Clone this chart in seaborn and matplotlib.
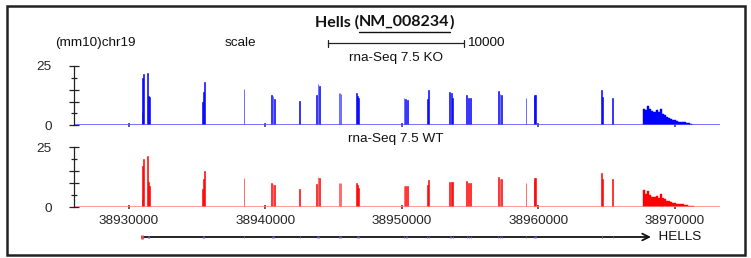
import matplotlib
matplotlib.use("Agg")
import matplotlib.pyplot as plt
import matplotlib.transforms as mtransforms
from matplotlib.patches import Rectangle
from matplotlib.ticker import FixedLocator
import seaborn as sns

# RNA-seq coverage on chr19 (mm10)
EXON_POS = [
    38930952, 38931004, 38931048, 38931370, 38931429, 38931487,
    38935399, 38935443, 38935509, 38938425,
    38940454, 38940549, 38940645, 38942506,
    38943751, 38943846, 38943942, 38945385, 38945458, 38945532,
    38946682, 38946755, 38946828, 38950147, 38950271, 38950388,
    38951853, 38951956, 38953516, 38953611, 38953714,
    38954740, 38954908, 38955033, 38957055, 38957180, 38957304,
    38959085, 38959671, 38959744, 38959817,
    38964630, 38964674, 38965436,
]
KO_EXON = [
    5.6, 20.0, 21.8, 22.2, 12.2, 12.0,
    9.8, 14.0, 18.3, 15.4,
    12.9, 12.5, 11.2, 10.1,
    12.6, 17.3, 16.5, 13.8, 13.5, 13.2,
    13.8, 12.5, 11.5, 11.7, 11.2, 10.5,
    11.2, 15.0, 14.0, 13.5, 11.7,
    12.9, 11.7, 11.7, 14.5, 13.0, 12.6,
    11.7, 12.3, 12.6, 12.6,
    14.8, 11.9, 11.7,
]
WT_EXON = [
    3.5, 16.9, 20.1, 21.1, 10.5, 8.7,
    7.3, 11.5, 14.8, 11.9,
    9.8, 9.6, 9.1, 7.7,
    9.5, 12.4, 12.0, 10.1, 10.0, 9.8,
    9.8, 9.0, 8.1, 8.7, 8.7, 8.6,
    9.1, 11.2, 10.5, 10.5, 10.3,
    10.8, 10.1, 10.1, 12.4, 11.5, 11.5,
    10.1, 10.9, 11.9, 11.9,
    14.0, 11.5, 11.5,
]

# 3' UTR coverage bins
UTR_POS = [
    38967750, 38967900, 38968050, 38968200, 38968350, 38968500, 38968650,
    38968800, 38968950, 38969100, 38969250, 38969400, 38969550, 38969700,
    38969850, 38970000, 38970150, 38970300, 38970450, 38970600, 38970750,
    38970900, 38971050, 38971200, 38971350,
]
KO_UTR = [
    7.0, 6.5, 8.1, 7.0, 6.2, 5.8, 6.3, 5.5, 6.7, 4.8, 4.2, 3.4, 3.1,
    2.6, 2.2, 2.3, 2.0, 1.6, 1.5, 1.3, 1.2, 1.1, 0.8, 0.5, 0.2,
]
WT_UTR = [
    7.0, 5.3, 6.7, 5.2, 4.3, 4.2, 4.6, 3.6, 5.3, 3.8, 3.2, 2.7, 2.3,
    2.0, 1.8, 1.5, 1.3, 1.1, 1.2, 1.1, 0.9, 0.8, 0.6, 0.5, 0.3,
]

X_TICKS = [38930000, 38940000, 38950000, 38960000, 38970000]
X_RANGE = (38925970, 38973300)
Y_MAJOR = [0, 10, 15, 25]
Y_MINOR = [5, 20]
GENE_START, GENE_END = 38930950, 38968240
SCALE_START, SCALE_BP = 38944580, 10000

TRACKS = [
    ("rna-Seq 7.5 KO", KO_EXON, KO_UTR, "#0000ff", "#5050ff"),
    ("rna-Seq 7.5 WT", WT_EXON, WT_UTR, "#ff0000", "#ff8080"),
]

W, H = 751, 258
sns.set_theme(style="white")
plt.rcParams["font.family"] = ["Liberation Sans", "DejaVu Sans"]

fig = plt.figure(figsize=(W / 100, H / 100), dpi=100)


def px_axes(left, top, right, bottom):
    return fig.add_axes([left / W, 1 - bottom / H, (right - left) / W, (bottom - top) / H])


def fx(px):
    return px / W


def fy(py):
    return 1 - py / H


FS = 9.7
track_boxes = [(66, 125.3), (147, 207)]
axes = []
for (label, exon_vals, utr_vals, color, base_color), (top, bottom) in zip(TRACKS, track_boxes):
    ax = px_axes(74, top, 720, bottom)
    ax.set_xlim(*X_RANGE)
    ax.set_ylim(0, 25)
    ax.bar(EXON_POS, exon_vals, width=70, color=color, edgecolor=color, linewidth=0.4, align="center")
    ax.bar(UTR_POS, utr_vals, width=150, color=color, edgecolor=color, linewidth=0.3, align="center")
    ax.axhline(0, color=base_color, lw=1.1, zorder=1)
    for side in ["top", "right", "bottom"]:
        ax.spines[side].set_visible(False)
    ax.spines["left"].set_color("#222222")
    ax.spines["left"].set_linewidth(0.9)
    ax.yaxis.set_major_locator(FixedLocator(Y_MAJOR))
    ax.yaxis.set_minor_locator(FixedLocator(Y_MINOR))
    ax.set_yticklabels(["0", "", "", "25"])
    ax.tick_params(axis="y", which="major", direction="inout", length=7, width=0.9,
                   color="#222222", pad=12.3, labelsize=FS, left=True)
    ax.tick_params(axis="y", which="minor", direction="inout", length=4, width=0.9,
                   color="#222222", left=True)
    ax.set_xticks(X_TICKS)
    ax.set_xticklabels([str(t) for t in X_TICKS])
    ax.tick_params(axis="x", direction="inout", length=3, width=1.2, color="#444444",
                   pad=4.3, labelsize=FS, bottom=True)
    ax.set_facecolor("none")
    ax.grid(False)
    fig.text(fx(396), fy(top - 8), label, ha="center", va="center", fontsize=FS, color="#111111")
    axes.append(ax)

axes[0].tick_params(axis="x", labelbottom=False)

# gene model
gax = px_axes(74, 231, 720, 243)
gax.set_xlim(*X_RANGE)
gax.set_ylim(-1, 1)
gax.axis("off")
gax.annotate("", xy=(GENE_END, 0), xytext=(GENE_START, 0),
             arrowprops=dict(arrowstyle="->", color="#111111", lw=1.3,
                             shrinkA=0, shrinkB=0, mutation_scale=12))
gax.vlines(EXON_POS, -0.22, 0.22, color="#6060d0", lw=0.8, alpha=0.8, zorder=3)
gax.vlines([GENE_START], -0.3, 0.3, color="#e05050", lw=2.0, zorder=3)
gax.text(GENE_END, 0, "  HELLS", ha="left", va="center", fontsize=FS, color="#111111")

# header line: chromosome and scale bar
fig.text(fx(55), fy(43), "(mm10)chr19", ha="left", va="center", fontsize=FS, color="#111111")
fig.text(fx(225), fy(43), "scale", ha="left", va="center", fontsize=FS, color="#111111")
blend = mtransforms.blended_transform_factory(axes[0].transData, fig.transFigure)
fig.lines.append(plt.Line2D([SCALE_START, SCALE_START + SCALE_BP], [fy(43), fy(43)],
                            transform=blend, color="#222222", lw=0.9))
for xb in [SCALE_START, SCALE_START + SCALE_BP]:
    fig.lines.append(plt.Line2D([xb, xb], [fy(39.5), fy(46.5)], transform=blend,
                                color="#222222", lw=0.9))
fig.text(fx(467), fy(43), "10000", ha="left", va="center", fontsize=FS, color="#111111")

# title with underlined accession
renderer = fig.canvas.get_renderer()
tfont = dict(fontsize=11.5, fontweight="bold", family=["Lato", "DejaVu Sans"], color="#111111")
x0 = fx(315)
ty = fy(22)
t1 = fig.text(x0, ty, "Hells (", ha="left", va="center", **tfont)
b1 = t1.get_window_extent(renderer)
x1 = b1.x1 / fig.bbox.width
t2 = fig.text(x1, ty, "NM_008234", ha="left", va="center", **tfont)
b2 = t2.get_window_extent(renderer)
x2 = b2.x1 / fig.bbox.width
fig.text(x2, ty, ")", ha="left", va="center", **tfont)
fig.lines.append(plt.Line2D([x1, x2], [fy(32), fy(32)], transform=fig.transFigure,
                            color="#111111", lw=1.0))

# outer frame
fig.patches.append(Rectangle((fx(7), fy(255)), fx(745) - fx(7), fy(6) - fy(255),
                             transform=fig.transFigure, fill=False, ec="#222222", lw=1.8))

fig.savefig("out.png", dpi=100)
